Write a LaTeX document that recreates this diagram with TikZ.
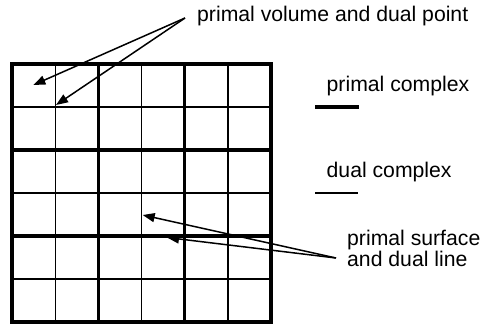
\documentclass[tikz,border=0pt]{standalone}
\usepackage{fontspec}
\setmainfont{Liberation Sans}
\usetikzlibrary{arrows.meta}
\begin{document}
\begin{tikzpicture}[x=1pt,y=-1pt,
  thinline/.style={line width=1.3pt},
  thickline/.style={line width=3.2pt},
  lbl/.style={inner sep=0pt, anchor=base west, font=\fontsize{21.2}{25}\selectfont},
  pointer/.style={line width=1.5pt, -{Triangle[length=12pt,width=9pt]}}]
\useasboundingbox (0,0) rectangle (482,324);
% grid
\foreach \i in {0,...,6} {
  \draw[thinline] ({12+43.17*\i},64) -- ({12+43.17*\i},322);
  \draw[thinline] (12,{64+43*\i}) -- (271,{64+43*\i});
}
\foreach \i in {2,4} {
  \draw[thickline] ({12+43.17*\i},64) -- ({12+43.17*\i},322);
  \draw[thickline] (12,{64+43*\i}) -- (271,{64+43*\i});
}
\draw[thickline] (12,64) rectangle (271,322);
% labels
\node[lbl] (pv) at (197,21) {primal volume and dual point};
\node[lbl] (pc) at (326.5,91) {primal complex};
\node[lbl] (dc) at (326.5,177) {dual complex};
\node[lbl] (ps1) at (347,245) {primal surface};
\node[lbl] (ps2) at (347,266) {and dual line};
% legend lines
\coordinate (pcA) at (315,107); \coordinate (pcB) at (359,107);
\coordinate (dcA) at (315,193); \coordinate (dcB) at (358,193);
\draw[thickline] (pcA) -- (pcB);
\draw[thinline] (dcA) -- (dcB);
% pointers
\coordinate (pvs) at (185,18);
\coordinate (vol) at (33.3,85);
\coordinate (pt) at (56,105);
\coordinate (pss) at (336,258);
\coordinate (surf) at (142.7,215);
\coordinate (line) at (167,237.5);
\draw[pointer] (pvs) -- (vol);
\draw[pointer] (pvs) -- (pt);
\draw[pointer] (pss) -- (surf);
\draw[pointer] (pss) -- (line);
\end{tikzpicture}
\end{document}
